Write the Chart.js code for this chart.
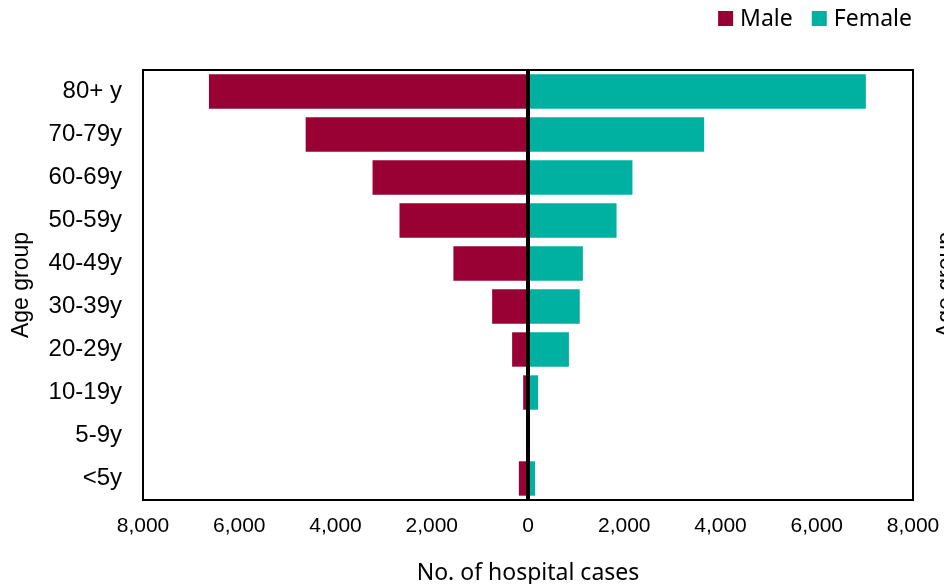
<!DOCTYPE html>
<html>
<head>
<meta charset="utf-8">
<script src="https://cdn.jsdelivr.net/npm/chart.js@4/dist/chart.umd.min.js"></script>
<style>
  html, body { margin: 0; padding: 0; background: #fff; }
  #wrap { width: 944px; height: 584px; position: relative; }
</style>
</head>
<body>
<div id="wrap"><canvas id="c" width="944" height="584"></canvas></div>
<script>
const categories = ['80+ y', '70-79y', '60-69y', '50-59y', '40-49y', '30-39y', '20-29y', '10-19y', '5-9y', '<5y'];
const maleCases = [6630, 4620, 3230, 2670, 1550, 745, 330, 100, 0, 190];
const femaleCases = [7020, 3660, 2170, 1840, 1140, 1075, 850, 210, 0, 145];
const xTickValues = [-8000, -6000, -4000, -2000, 0, 2000, 4000, 6000, 8000];

const MALE_COLOR = '#990033';
const FEMALE_COLOR = '#00B0A0';
const LEGEND_FONT = '23px "Noto Sans", "Open Sans", sans-serif';

const framePlugin = {
  id: 'frame',
  afterDatasetsDraw(chart) {
    const { ctx, chartArea: a, scales } = chart;
    ctx.save();
    // zero line
    const x0 = scales.x.getPixelForValue(0);
    ctx.strokeStyle = '#000';
    ctx.lineWidth = 4;
    ctx.beginPath();
    ctx.moveTo(x0, a.top);
    ctx.lineTo(x0, a.bottom);
    ctx.stroke();
    // frame
    ctx.lineWidth = 2;
    ctx.strokeRect(a.left, a.top, a.right - a.left, a.bottom - a.top);
    ctx.restore();

    // legend (top right)
    ctx.save();
    ctx.font = LEGEND_FONT;
    ctx.textBaseline = 'middle';
    ctx.textAlign = 'left';
    const items = chart.data.datasets.map(d => ({ text: d.label, color: d.backgroundColor }));
    const box = 15, gap = 7, itemGap = 19;
    let total = 0;
    items.forEach((it, i) => { total += box + gap + ctx.measureText(it.text).width + (i < items.length - 1 ? itemGap : 0); });
    let x = 912 - total;
    const cy = 18.5;
    items.forEach(it => {
      ctx.fillStyle = it.color;
      ctx.fillRect(x, cy - box / 2, box, box);
      x += box + gap;
      ctx.fillStyle = '#000';
      ctx.fillText(it.text, x, cy + 1);
      x += ctx.measureText(it.text).width + itemGap;
    });
    ctx.restore();

    // right clipped axis title
    ctx.save();
    ctx.translate(947, (a.top + a.bottom) / 2);
    ctx.rotate(-Math.PI / 2);
    ctx.fillStyle = '#000';
    ctx.font = '23px "Liberation Sans", Arial, sans-serif';
    ctx.textAlign = 'center';
    ctx.textBaseline = 'middle';
    ctx.fillText('Age group', 0, 0);
    ctx.restore();
  }
};

new Chart(document.getElementById('c'), {
  type: 'bar',
  data: {
    labels: categories,
    datasets: [
      { label: 'Male', data: maleCases.map(v => -v), backgroundColor: MALE_COLOR, categoryPercentage: 0.8, barPercentage: 1 },
      { label: 'Female', data: femaleCases, backgroundColor: FEMALE_COLOR, categoryPercentage: 0.8, barPercentage: 1 }
    ]
  },
  options: {
    indexAxis: 'y',
    responsive: false,
    animation: false,
    devicePixelRatio: 1,
    layout: { padding: { left: 4, right: 31, top: 70, bottom: 0 } },
    plugins: {
      tooltip: { enabled: false },
      legend: { display: false }
    },
    scales: {
      x: {
        stacked: true,
        min: -8000, max: 8000,
        afterBuildTicks(axis) { axis.ticks = xTickValues.map(v => ({ value: v })); },
        afterFit(axis) { axis.height = 84; axis.paddingLeft = 0; axis.paddingRight = 0; },
        grid: { display: false, drawTicks: false },
        border: { display: false },
        ticks: {
          padding: 14,
          color: '#000',
          maxRotation: 0,
          autoSkip: false,
          font: { family: '"Liberation Sans", Arial, sans-serif', size: 21 },
          callback: v => Math.abs(v).toLocaleString('en-US')
        },
        title: {
          display: true,
          text: 'No. of hospital cases',
          color: '#000',
          padding: { top: 17, bottom: -3 },
          font: { family: '"Noto Sans", "Open Sans", sans-serif', size: 23 }
        }
      },
      y: {
        stacked: true,
        afterFit(axis) { axis.width = 139; },
        grid: { display: false, drawTicks: false },
        border: { display: false },
        ticks: {
          padding: 21,
          color: '#000',
          autoSkip: false,
          font: { family: '"Liberation Sans", Arial, sans-serif', size: 24 }
        },
        title: {
          display: true,
          text: 'Age group',
          color: '#000',
          padding: { top: 4, bottom: 0 },
          font: { family: '"Liberation Sans", Arial, sans-serif', size: 23 }
        }
      }
    }
  },
  plugins: [framePlugin]
});
</script>
</body>
</html>
